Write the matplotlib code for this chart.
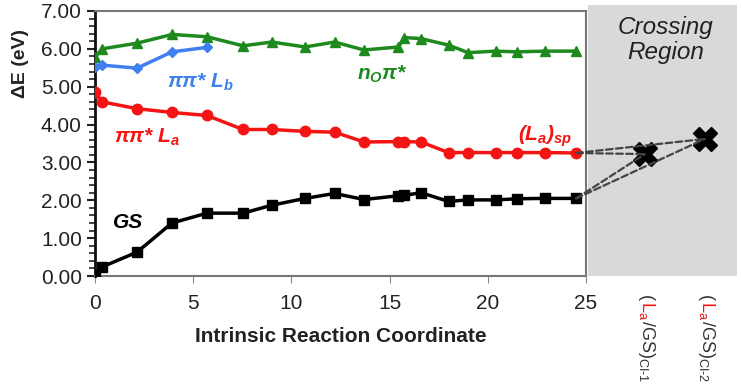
import matplotlib
matplotlib.use("Agg")
import matplotlib.pyplot as plt
from matplotlib.patches import ConnectionPatch
from matplotlib.transforms import offset_copy
from matplotlib.ticker import MultipleLocator, FormatStrFormatter

plt.rcParams['font.family'] = ['Liberation Sans', 'DejaVu Sans']

# IRC coordinate of each computed point
irc = [0, 0.36, 2.14, 3.92, 5.7, 7.54, 9.0, 10.7, 12.2, 13.7,
       15.45, 15.75, 16.6, 18.0, 19.0, 20.4, 21.5, 22.9, 24.5]
gs = [0.03, 0.24, 0.63, 1.40, 1.66, 1.66, 1.87, 2.05, 2.18, 2.02,
      2.12, 2.13, 2.20, 1.97, 2.01, 2.01, 2.04, 2.05, 2.05]
la = [4.85, 4.60, 4.42, 4.32, 4.24, 3.87, 3.87, 3.82, 3.80, 3.54,
      3.55, 3.55, 3.54, 3.26, 3.26, 3.26, 3.26, 3.26, 3.25]
nopi = [5.78, 6.00, 6.15, 6.38, 6.32, 6.08, 6.18, 6.05, 6.18, 5.97,
        6.05, 6.30, 6.27, 6.10, 5.90, 5.94, 5.92, 5.94, 5.94]
irc_lb = [0, 0.36, 2.14, 3.92, 5.7]
lb = [5.52, 5.57, 5.49, 5.92, 6.04]

ci_pos = [0, 1]
ci_energy = [3.22, 3.62]
ci_tags = ['CI\u20101', 'CI\u20102']

fig = plt.figure(figsize=(7.41, 3.92), dpi=100)
ax = fig.add_axes([95 / 741, 1 - 276 / 392, 491 / 741, 265 / 392])
cx = fig.add_axes([588 / 741, 1 - 276 / 392, 149 / 741, 271 / 392])

lw = 2.5
ax.plot(irc, nopi, color='#1e8a1e', lw=lw, marker='^', ms=7, zorder=3)
ax.plot(irc_lb, lb, color='#3f7ff0', lw=lw, marker='D', ms=5, zorder=3)
ax.plot(irc, la, color='#f51414', lw=lw, marker='o', ms=7.5, zorder=3)
ax.plot(irc, gs, color='black', lw=lw, marker='s', ms=7.5, zorder=3)

ax.set_xlim(0, 25)
ax.set_ylim(0, 7)
ax.xaxis.set_major_locator(MultipleLocator(5))
ax.yaxis.set_major_locator(MultipleLocator(1))
ax.yaxis.set_minor_locator(MultipleLocator(0.2))
ax.yaxis.set_major_formatter(FormatStrFormatter('%.2f'))
ax.tick_params(axis='both', labelsize=15, colors='#222222')
ax.tick_params(axis='x', length=5, color='#888888', pad=8)
ax.tick_params(axis='y', which='major', length=6, width=1.5, color='#222222')
ax.tick_params(axis='y', which='minor', length=4, width=1.2, color='#222222')
for s in ['top', 'right', 'bottom']:
    ax.spines[s].set_color('#777777')
    ax.spines[s].set_linewidth(1.5)
ax.spines['left'].set_color('#111111')
ax.spines['left'].set_linewidth(2)

ax.set_xlabel('Intrinsic Reaction Coordinate', fontsize=15, fontweight='bold',
              color='#222222', labelpad=10)
ax.set_ylabel('ΔE (eV)', fontsize=14, fontweight='bold', color='#222222')
ax.yaxis.set_label_coords(-0.135, 0.80)

ann = dict(fontsize=15, fontweight='bold', style='italic', ha='center', va='center')
ax.text(5.35, 5.11, r'ππ* $\mathregular{L_b}$', color='#3f7ff0', **ann)
ax.text(2.65, 3.65, r'ππ* $\mathregular{L_a}$', color='#f51414', **ann)
ax.text(14.65, 5.32, r'$\mathregular{n_O}$π*', color='#1e8a1e', **ann)
ax.text(22.9, 3.7, r'$\mathregular{(L_a)_{sp}}$', color='#f51414', **ann)
ax.text(1.7, 1.4, 'GS', color='black', **ann)

# crossing region panel
cx.set_facecolor('#d9d9d9')
cx.set_xlim(-0.95, 1.54)
cx.set_ylim(0, 7 * 271 / 265)
cx.set_xticks([])
cx.set_yticks([])
for s in cx.spines.values():
    s.set_visible(False)
cx.text(0.52, 0.87, 'Crossing\nRegion', transform=cx.transAxes, ha='center',
        va='center', fontsize=17.5, style='italic', color='#222222', linespacing=1.1)
cx.plot(ci_pos, ci_energy, linestyle='none', marker='X', ms=17, color='black', zorder=4)

for yA in [la[-1], gs[-1]]:
    for cp, ce in zip(ci_pos, ci_energy):
        con = ConnectionPatch(xyA=(irc[-1], yA), coordsA=ax.transData,
                              xyB=(cp, ce), coordsB=cx.transData,
                              linestyle=(0, (3, 1.5)), color='#444444', lw=1.6)
        fig.add_artist(con)

# rotated state labels below the panel, built piece by piece for the colours
renderer = fig.canvas.get_renderer()
lab_kw = dict(rotation=-90, rotation_mode='anchor', ha='left', va='baseline',
              fontsize=13, clip_on=False)
for cp, tag in zip(ci_pos, ci_tags):
    parts = [(r'$\mathregular{(}$', '#333333'),
             (r'$\mathregular{L_a}$', '#f51414'),
             (r'$\mathregular{/GS)_{' + tag + '}}$', '#333333')]
    off = 0
    for s, c in parts:
        tr = offset_copy(cx.get_xaxis_transform(), fig=fig, y=-off, units='dots')
        t = cx.text(cp - 0.05, -0.063, s, color=c, transform=tr, **lab_kw)
        off += t.get_window_extent(renderer).height

fig.savefig('out.png', dpi=100)
